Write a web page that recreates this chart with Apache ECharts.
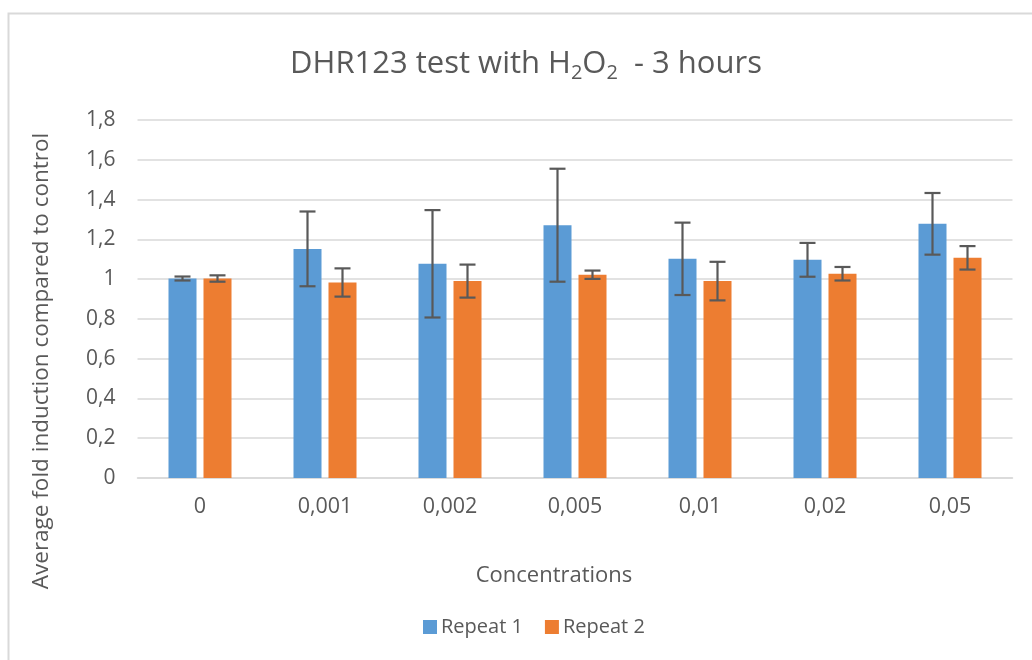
<!DOCTYPE html>
<html>
<head>
<meta charset="utf-8">
<script src="https://cdn.jsdelivr.net/npm/echarts@6/dist/echarts.min.js"></script>
<style>html,body{margin:0;padding:0;background:#fff}#c{width:1032px;height:660px}</style>
</head>
<body>
<div id="c"></div>
<script>
const categories = ['0', '0,001', '0,002', '0,005', '0,01', '0,02', '0,05'];
const repeat1 = [1.003, 1.152, 1.077, 1.271, 1.102, 1.097, 1.278];
const repeat1Err = [0.010, 0.188, 0.270, 0.284, 0.182, 0.085, 0.155];
const repeat2 = [1.003, 0.983, 0.990, 1.022, 0.990, 1.027, 1.107];
const repeat2Err = [0.016, 0.071, 0.083, 0.021, 0.097, 0.034, 0.059];
const yTicks = [0, 0.2, 0.4, 0.6, 0.8, 1, 1.2, 1.4, 1.6, 1.8];

const FONT = 'Open Sans';
const BAR_W = 28, BAR_GAP = 7;
const chart = echarts.init(document.getElementById('c'), null, {renderer: 'canvas'});

function errSeries(name, vals, errs, sign) {
  return {
    type: 'custom',
    name: name + ' err',
    z: 10,
    silent: true,
    data: vals.map((v, i) => [i, v, errs[i]]),
    renderItem: function (params, api) {
      const i = api.value(0), v = api.value(1), e = api.value(2);
      const off = sign * (BAR_W + BAR_GAP) / 2;
      const top = api.coord([i, v + e]);
      const bot = api.coord([i, v - e]);
      const x = top[0] + off;
      const cap = 8;
      const st = {stroke: '#595959', lineWidth: 2.2};
      return {
        type: 'group',
        children: [
          {type: 'line', shape: {x1: x, y1: top[1], x2: x, y2: bot[1]}, style: st},
          {type: 'line', shape: {x1: x - cap, y1: top[1], x2: x + cap, y2: top[1]}, style: st},
          {type: 'line', shape: {x1: x - cap, y1: bot[1], x2: x + cap, y2: bot[1]}, style: st}
        ]
      };
    },
    encode: {x: 0, y: 1},
    tooltip: {show: false}
  };
}

chart.setOption({
  animation: false,
  textStyle: {fontFamily: FONT},
  graphic: [{
    type: 'rect', silent: true,
    shape: {x: 8.5, y: 13.5, width: 1200, height: 800},
    style: {fill: 'none', stroke: '#d9d9d9', lineWidth: 2}
  }],
  title: {
    text: 'DHR123 test with H{s|2}O{s|2}  - 3 hours',
    left: 521, top: 41, textAlign: 'center',
    textStyle: {
      fontFamily: FONT, fontSize: 31, fontWeight: 'normal', color: '#595959',
      rich: {s: {fontFamily: FONT, fontSize: 20, color: '#595959', verticalAlign: 'bottom', padding: [17, 0, 0, 0]}}
    }
  },
  legend: {
    data: ['Repeat 1', 'Repeat 2'],
    left: 418, top: 612,
    itemWidth: 14, itemHeight: 14, itemGap: 22,
    icon: 'rect',
    textStyle: {fontFamily: FONT, fontSize: 20, color: '#595959', padding: [0, 0, 0, -1]}
  },
  grid: {left: 137.5, right: 19.5, top: 120, bottom: 182, containLabel: false},
  xAxis: {
    type: 'category',
    data: categories,
    name: 'Concentrations',
    nameLocation: 'middle',
    nameGap: 87,
    nameTextStyle: {fontFamily: FONT, fontSize: 22, color: '#595959', padding: [0, 42, 0, 0]},
    axisLine: {lineStyle: {color: '#d9d9d9', width: 1.5}},
    axisTick: {show: false},
    axisLabel: {fontFamily: FONT, fontSize: 21.5, color: '#595959', margin: 18}
  },
  yAxis: {
    type: 'value',
    min: 0, max: 1.8, interval: 0.2,
    name: 'Average fold induction compared to control',
    nameLocation: 'middle',
    nameGap: 84,
    nameTextStyle: {fontFamily: FONT, fontSize: 22.5, color: '#595959', padding: [0, 124, 0, 0]},
    axisLine: {show: false},
    axisTick: {show: false},
    splitLine: {lineStyle: {color: '#d9d9d9', width: 1.5}},
    axisLabel: {
      fontFamily: FONT, fontSize: 21, color: '#595959', margin: 22,
      formatter: function (v) {
        const t = yTicks.find(x => Math.abs(x - v) < 1e-9);
        return (t === undefined ? v : t).toString().replace('.', ',');
      }
    }
  },
  series: [
    {name: 'Repeat 1', type: 'bar', data: repeat1, barWidth: BAR_W, barGap: (BAR_GAP / BAR_W * 100) + '%',
     itemStyle: {color: '#5b9bd5'}},
    {name: 'Repeat 2', type: 'bar', data: repeat2, barWidth: BAR_W,
     itemStyle: {color: '#ed7d31'}},
    errSeries('Repeat 1', repeat1, repeat1Err, -1),
    errSeries('Repeat 2', repeat2, repeat2Err, 1)
  ]
});
</script>
</body>
</html>
